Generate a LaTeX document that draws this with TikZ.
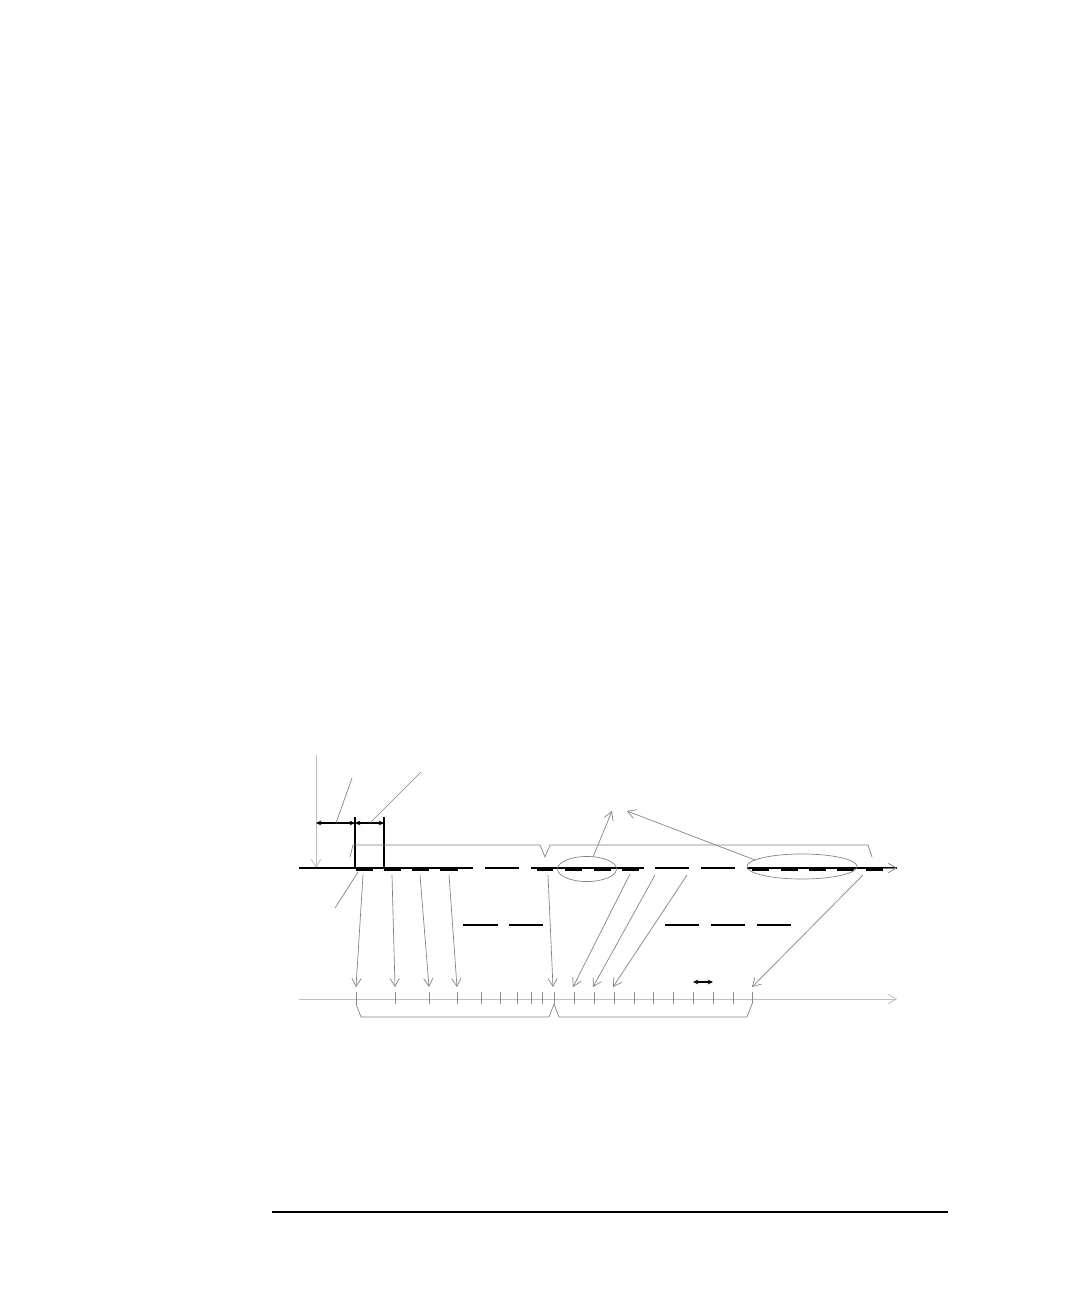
\documentclass[tikz,border=0pt]{standalone}
\usetikzlibrary{arrows.meta}
\begin{document}
\begin{tikzpicture}[x=0.75pt,y=-0.75pt,
  grayline/.style={draw=black!50, line width=0.5pt},
  lightline/.style={draw=black!25, line width=0.6pt},
  barb/.style={-{Straight Barb[length=6pt,width=7pt]}},
  mainline/.style={draw=black, line width=0.8pt},
  thickdash/.style={draw=black, line width=2.4pt},
  middash/.style={draw=black, line width=1pt},
  dimarrow/.style={draw=black, line width=0.8pt, {Stealth[length=4pt,width=3.5pt]}-{Stealth[length=4pt,width=3.5pt]}},
  tickmark/.style={draw=black!45, line width=0.6pt}]
\useasboundingbox (0,0) rectangle (1080,1296);
\fill[white] (0,0) rectangle (1080,1296);

% vertical reference arrow
\coordinate (va) at (316,755);
\coordinate (vb) at (316,868);
\draw[lightline,barb] (va) -- (vb);

% dimension arrows and ticks
\coordinate (d0) at (316,823);
\coordinate (d1) at (355,823);
\coordinate (d2) at (384,823);
\draw[dimarrow] (d0) -- (d1);
\draw[dimarrow] (d1) -- (d2);
\coordinate (t1a) at (355,817); \coordinate (t1b) at (355,868);
\coordinate (t2a) at (384,817); \coordinate (t2b) at (384,868);
\draw[mainline] (t1a) -- (t1b);
\draw[mainline] (t2a) -- (t2b);

% leader lines
\coordinate (l1a) at (336,823); \coordinate (l1b) at (352,778);
\coordinate (l2a) at (370,823); \coordinate (l2b) at (421,772);
\coordinate (l3a) at (358,872); \coordinate (l3b) at (335,908);
\draw[grayline] (l1a) -- (l1b);
\draw[grayline] (l2a) -- (l2b);
\draw[grayline] (l3a) -- (l3b);

% top brace
\draw[grayline] (350,857) -- (353,845) -- (540,845) -- (545,857) -- (550,845) -- (868,845) -- (872,857);

% main line
\foreach \a/\b in {299/473, 485/519, 531/644, 655/689, 701/735}
  \draw[mainline] (\a,868) -- (\b,868);
\coordinate (ma) at (747,868);
\coordinate (mb) at (897,868);
\draw[mainline] (ma) -- (mb);
\draw[grayline,barb] (880,868) -- (mb);

% thick dashes
\foreach \a/\b in {356/373, 384/401, 412/429, 440/458, 537/553, 565/582, 594/611, 622/639, 752/769, 781/798, 809/826, 837/854, 866/883}
  \draw[thickdash] (\a,869.5) -- (\b,869.5);

% ellipses
\draw[grayline] (587,869) ellipse [x radius=22.1pt, y radius=9.4pt];
\draw[grayline] (802,866.5) ellipse [x radius=41.3pt, y radius=9.4pt];

% arrows from ellipses upward
\coordinate (u1a) at (593,857); \coordinate (u1b) at (612,811);
\coordinate (u2a) at (755,860); \coordinate (u2b) at (627,811);
\draw[grayline,barb] (u1a) -- (u1b);
\draw[grayline,barb] (u2a) -- (u2b);

% middle dashes
\foreach \a/\b in {463/498, 509/543, 665/699, 711/745, 757/791}
  \draw[middash] (\a,925) -- (\b,925);

% downward arrows
\foreach \i/\a/\b/\c/\d in {1/363/875/356/987, 2/392/875/395/987, 3/420/875/429/987, 4/449/875/457/987, 5/548/875/553/987, 6/630/874/573/987, 7/655/875/593/987, 8/687/875/613/987, 9/863/875/752/987} {
  \coordinate (s\i) at (\a,\b);
  \coordinate (f\i) at (\c,\d);
  \draw[grayline,barb] (s\i) -- (f\i);
}

% bottom axis
\coordinate (xa) at (299,999);
\coordinate (xb) at (897,999);
\draw[lightline,barb] (xa) -- (xb);
\foreach \x in {356,395,429,457,481,500,517,531,542,554,574,594,614,634,653,673,693,713,733,752}
  \draw[tickmark] (\x,992) -- (\x,1004);

% small double arrow
\coordinate (da) at (693,982);
\coordinate (db) at (713,982);
\draw[dimarrow] (da) -- (db);

% bottom brace
\draw[grayline] (356,1004) -- (361,1017) -- (549,1017) -- (554,1004) -- (559,1017) -- (747,1017) -- (752,1004);

% page rule
\coordinate (ra) at (272,1212);
\coordinate (rb) at (948,1212);
\draw[draw=black, line width=2.2pt] (ra) -- (rb);
\end{tikzpicture}
\end{document}
